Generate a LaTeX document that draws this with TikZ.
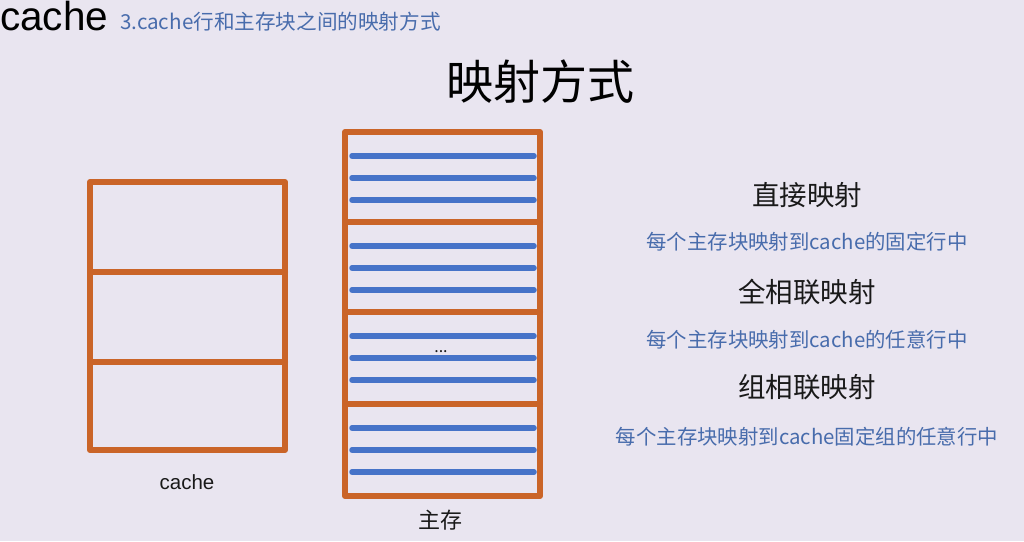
\documentclass[tikz,border=0pt]{standalone}
\usepackage{fontspec}
\setmainfont{Noto Sans CJK SC}
\newfontfamily\latinsans{Liberation Sans}
\definecolor{bgc}{RGB}{233,229,240}
\definecolor{orangec}{RGB}{202,100,40}
\definecolor{bluec}{RGB}{70,115,200}
\definecolor{textblue}{RGB}{72,108,172}
\definecolor{textdark}{RGB}{25,25,25}
\tikzset{
  frame/.style={draw=orangec, line width=6pt, line cap=round, line join=round},
  stripe/.style={draw=bluec, line width=5.5pt, line cap=round},
  heading/.style={text=textdark, font=\fontsize{27.5}{30}\selectfont, inner sep=0pt},
  desc/.style={text=textblue, font=\fontsize{20.4}{23}\selectfont, inner sep=0pt},
  caption/.style={text=textdark, inner sep=0pt},
}
\begin{document}
\begin{tikzpicture}[x=1pt,y=-1pt]
\fill[bgc] (0,0) rectangle (1024,541);
\useasboundingbox (0,0) rectangle (1024,541);

% header
\node[anchor=base west, inner sep=0pt, text=black, font=\latinsans\fontsize{40.5}{44}\selectfont] (title) at (0,30) {cache};
\node[anchor=base west, inner sep=0pt, text=textblue, font=\fontsize{20.6}{23}\selectfont] (subtitle) at (120,29) {3.cache行和主存块之间的映射方式};
\node[inner sep=0pt, text=black, font=\fontsize{47}{50}\selectfont] (maintitle) at (540,82) {映射方式};

% cache box
\draw[frame] (90,182) rectangle (285,450);
\draw[frame] (90,272) -- (285,272);
\draw[frame] (90,362) -- (285,362);
\node[caption, font=\latinsans\fontsize{20.5}{23}\selectfont] (cachelabel) at (187,482) {cache};

% main memory box
\foreach \b in {132,222,312,404}{
  \foreach \o in {24,46,68}{
    \draw[stripe] (352,\b+\o) -- (534,\b+\o);
  }
}
\draw[frame] (345,132) rectangle (540,496);
\draw[frame] (345,222) -- (540,222);
\draw[frame] (345,312) -- (540,312);
\draw[frame] (345,404) -- (540,404);
\node[inner sep=0pt, text=textdark, font=\fontsize{16}{18}\selectfont] (dots) at (441,352) {...};
\node[caption, font=\fontsize{22}{24}\selectfont] (memlabel) at (440,520) {主存};

% right side texts
\node[heading] (direct) at (807,195) {直接映射};
\node[desc] (directd) at (807,242) {每个主存块映射到cache的固定行中};
\node[heading] (full) at (807,292) {全相联映射};
\node[desc] (fulld) at (807,340) {每个主存块映射到cache的任意行中};
\node[heading] (set) at (807,387) {组相联映射};
\node[desc] (setd) at (807,437) {每个主存块映射到cache固定组的任意行中};
\end{tikzpicture}
\end{document}
